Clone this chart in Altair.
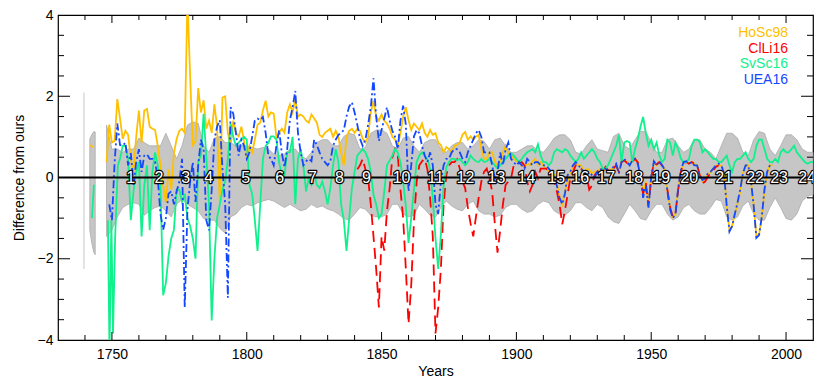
import altair as alt
import pandas as pd

W, H = 755, 325
FONT = "Liberation Sans"

# ---------------- data ----------------
# HoSc98 (gold)
ho_early_years = [1742, 1743]
ho_early = [0.80, 0.74]
ho_start = 1748
ho_vals = [
    0.38, 1.30,
    0.86, 0.90, 1.93, 1.45, 0.95, 1.15, 1.05, 0.45, 0.15, 1.00,
    1.65, 0.85, 1.65, 1.69, 1.25, 1.20, 1.17, 0.78, 0.30, -0.20,
    -0.62, 0.20, -0.30, 0.60, 0.95, 1.15, 1.20, 1.10, 4.40, 2.50,
    0.80, 0.90, 2.20, 1.60, 1.90, 1.20, 1.40, 1.10, 1.80, 1.25,
    -0.60, 1.97, 2.00, 1.09, 0.78, 1.40, 1.09, 1.01, 1.25, 0.90,
    0.46, 0.78, 0.62, 0.93, 1.30, 1.35, 1.65, 1.89, 1.50, 1.60,
    1.57, 1.00, 1.10, 1.20, 1.10, 1.60, 1.80, 1.60, 1.93, 1.50,
    1.55, 1.50, 1.40, 1.35, 1.55, 1.45, 1.35, 1.05, 1.00, 1.10,
    1.15, 1.20, 1.00, 1.15, 1.00, 0.60, 0.30, 1.00, 1.15, 1.20,
    1.10, 1.20, 1.15, 0.95, 0.86, 1.00, 1.60, 1.89, 1.50, 1.40,
    1.55, 1.40, 1.33, 1.20, 1.00, 0.93, 0.78, 1.10, 1.49, 1.73,
    1.41, 1.17, 1.33, 1.25, 1.17, 1.33, 1.10, 1.00, 1.17, 1.05,
    1.09, 0.86, 0.80, 0.62, 0.75, 0.70, 0.62, 0.78, 0.80, 0.86,
    1.05, 1.12, 0.93, 1.01, 0.93, 1.00, 1.05, 0.70, 0.46, 0.46,
    0.62, 0.62, 0.40, 0.30, 0.40, 0.62, 0.78, 0.60, 0.55, 0.46,
    0.40, 0.38, 0.30, 0.25, 0.35, 0.30, 0.40, 0.46, 0.30, 0.38,
    0.30, 0.22, 0.14, 0.14, 0.06, -0.15, -0.45, -0.66, -0.34, -0.10,
    0.14, 0.25, 0.38, 0.30, 0.30, 0.14, 0.20, 0.20, 0.10, 0.15,
    0.14, 0.22, 0.14, 0.22, 0.14, 0.20, 0.22, 0.30, 0.14, 0.38,
    0.42, 0.38, 0.34, 0.40, 0.46, 0.38, -0.02, -0.42, -0.10, -0.66,
    0.00, 0.38, 0.30, 0.38, 0.30, 0.22, -0.30, -0.74, -0.97, -0.90,
    -0.30, 0.14, 0.38, 0.38, 0.34, 0.38, 0.34, 0.30, 0.06, -0.10,
    -0.02, 0.06, 0.14, 0.22, 0.30, 0.30, 0.30, 0.10, -0.66, -1.29,
    -1.20, -0.90, -0.66, -0.34, 0.10, 0.30, 0.30, -0.10, -0.66, -1.45,
    -1.40, -0.97, -0.34, 0.10, 0.30, 0.30,
]

# ClLi16 (red, dashed)
cl_start = 1841
cl_vals = [
    0.20, 0.30, 0.46, 0.20, -0.02, -0.66, -1.45, -2.25, -3.20,
    -1.45, -1.80, -0.82, -0.26, 0.50, 0.70, 0.55, -0.30, -1.00, -2.25,
    -3.60, -2.65, -1.10, -0.10, 0.30, 0.40, 0.46, 0.20, -0.50, -1.45,
    -3.84, -3.20, -2.25, -0.66, 0.06, 0.30, 0.38, 0.38, 0.45, 0.22,
    -0.10, -0.26, -0.74, -1.13, -1.45, -0.97, -0.50, -0.10, 0.14, 0.22,
    -0.02, -0.34, -1.13, -1.85, -1.29, -0.66, -0.18, -0.10, -0.02, 0.30,
    0.30, 0.35, 0.38, 0.30, -0.10, -0.34, -0.18, 0.14, -0.02, 0.22,
    0.22, 0.22, 0.14, 0.06, -0.10, -0.34, -0.66, -1.15, -0.82, -0.42,
    -0.02, 0.14, 0.30, 0.30, 0.22, 0.10, 0.06, -0.30, -0.20, 0.06,
    0.14, 0.22, 0.14, 0.26, 0.18, 0.20, 0.22, 0.30, 0.14, 0.38,
    0.42, 0.36, 0.34, 0.40, 0.46, 0.38, -0.02, -0.40, -0.14, -0.70,
    0.00, 0.36, 0.32, 0.38, 0.30, 0.22, -0.30, -0.74, -0.97, -0.88,
    -0.30, 0.14, 0.36, 0.38, 0.34, 0.38, 0.34, 0.30, 0.06, -0.14,
    -0.10, 0.02, 0.10, 0.18, 0.26, 0.30,
]

# SvSc16 (spring green)
sv_early_years = [1742.6, 1743.3]
sv_early = [-1.00, -0.18]
sv_lead_years = [1748.5, 1749.1, 1749.8, 1750.4, 1751.2, 1752.2]
sv_lead = [-1.05, -4.30, -1.05, -3.84, -1.45, 0.30]
sv_start = 1753
sv_vals = [
    0.46, 0.78, 0.78, 0.46, -1.05, -0.34, 0.14,
    0.38, -1.45, -0.20, 0.30, -1.30, 0.14, 0.62, 0.30, -0.18, -2.90,
    -2.60, -1.93, -1.50, -1.29, -0.30, -0.30, -0.60, -0.40, -1.00, -1.20,
    -1.50, -2.00, 0.40, 0.54, 1.57, 0.50, -0.66, -3.52, -2.00, -1.00,
    -0.66, -0.30, -0.10, 0.46, 1.33, 1.00, 0.78, 0.86, 0.93, 1.00,
    0.93, -0.18, -0.40, -1.05, -1.81, -0.66, 0.46, 0.78, 0.85, 1.01,
    1.01, 0.93, 0.38, 0.06, 0.06, 0.62, 0.62, 1.00, -0.66, 0.46,
    0.70, 0.30, -0.34, -0.02, -0.18, 0.14, -0.18, -0.26, -0.10, -0.34,
    -0.66, -0.26, 0.30, 0.70, 0.38, -0.66, -1.05, -1.81, -1.00, -0.26,
    0.14, 0.54, 0.62, 0.70, 0.62, 0.46, 0.14, -0.42, -0.66, -1.00,
    -0.90, -0.34, 0.30, 0.42, 0.54, 0.70, 0.62, 0.38, -0.10, -0.70,
    -1.61, -1.00, -0.30, 0.38, 0.54, 0.62, 0.54, 0.46, 0.20, -0.50,
    -1.50, -2.25, -1.40, -0.20, 0.25, 0.38, 0.46, 0.46, 0.42, 0.46,
    0.38, 0.30, 0.38, 0.54, 0.46, 0.40, 0.38, 0.46, 0.38, 0.40,
    0.46, 0.38, 0.30, 0.22, 0.30, 0.38, 0.46, 0.54, 0.60, 0.54,
    0.46, 0.38, 0.46, 0.55, 0.62, 0.66, 0.70, 0.62, 0.82, 0.54,
    0.38, 0.38, 0.30, 0.38, 0.62, 0.70, 0.66, 0.62, 0.70, 0.66,
    0.54, 0.46, 0.38, 0.46, 0.62, 0.46, 0.54, 0.62, 0.70, 0.62,
    0.46, 0.38, 0.22, 0.22, 0.30, 0.46, 0.62, 0.78, 1.05, 0.38,
    0.86, 0.90, 0.86, 0.38, 0.70, 0.93, 1.25, 1.49, 1.09, 0.78,
    0.93, 0.70, 0.86, 0.54, 0.38, 0.46, 0.93, 0.86, 0.54, 0.86,
    0.70, 0.46, 0.38, 0.38, 0.46, 0.78, 0.93, 0.93, 0.88, 0.62,
    0.70, 0.62, 0.54, 0.46, 0.46, 0.38, 0.38, 0.46, 0.54, 0.30,
    0.14, 0.38, 0.46, 0.46, 0.54, 0.62, 0.46, 0.38, 0.46, 0.78,
    0.93, 0.93, 0.70, 0.46, 0.38, 0.38, 0.46, 0.38, 0.62, 0.70,
    0.62, 0.62, 0.70, 0.78, 0.62, 0.54, 0.46, 0.38, 0.34, 0.38,
    0.38,
]

# UEA16 (blue, dash-dot)
uea_start = 1749
uea_vals = [
    -0.66,
    -1.05, 0.38, 1.33, 0.80, 0.78, 0.86, 0.30, 0.60, -0.18, 0.38,
    0.70, 0.14, 0.54, 0.57, 0.46, 0.46, 0.38, -0.02, -0.90, -1.29,
    -1.00, -0.40, -0.34, -0.66, -0.34, -0.10, 0.46, -3.20, -0.80, -0.10,
    0.38, -0.60, 0.30, 0.93, 0.70, -1.05, -1.30, -0.30, 0.93, 1.25,
    1.41, 0.20, -0.66, -2.96, 1.73, 1.57, 1.09, 0.54, 0.93, 0.78,
    0.46, 0.62, 1.00, 1.40, 1.45, 1.41, 1.49, 1.10, 0.54, 0.46,
    0.30, 0.78, 1.17, 0.60, 0.25, 0.70, 1.41, 1.73, 2.13, 1.09,
    0.62, 0.30, 0.40, 0.46, 0.40, 0.93, 0.80, 0.62, 0.46, 0.38,
    0.30, 0.40, 0.78, 0.93, 1.05, 1.10, 1.17, 1.50, 1.75, 1.85,
    1.60, 1.30, 0.95, 0.78, 0.93, 1.30, 1.73, 2.44, 1.50, 0.90,
    1.17, 1.45, 1.73, 1.40, 1.15, 1.00, 0.70, 1.40, 1.77, 1.30,
    -0.34, 0.30, 1.01, 1.17, 1.09, 0.78, 0.54, 0.38, 0.62, 0.30,
    -0.66, -0.90, -0.10, 0.30, 0.46, 0.46, 0.62, 0.70, 0.70, 0.62,
    0.46, 0.38, 0.62, 0.78, 0.93, 1.09, 1.17, 1.00, 0.62, 0.62,
    0.62, 0.30, -0.02, 0.14, 0.62, 0.30, 0.70, 0.86, 0.46, 0.38,
    0.30, 0.38, 0.30, 0.22, 0.46, 0.38, 0.30, 0.38, 0.38, 0.30,
    0.30, 0.30, 0.22, 0.14, 0.00, -0.20, -0.50, -0.66, -0.40, 0.06,
    0.14, 0.30, 0.38, 0.30, 0.22, 0.14, 0.14, 0.14, 0.06, 0.00,
    0.14, 0.22, 0.18, 0.22, 0.14, 0.18, 0.26, 0.34, 0.10, 0.38,
    0.46, 0.38, 0.30, 0.42, 0.46, 0.34, 0.06, -0.50, -0.20, -0.74,
    0.02, 0.40, 0.30, 0.40, 0.30, 0.20, -0.34, -0.78, -1.00, -0.90,
    -0.26, 0.18, 0.38, 0.40, 0.34, 0.38, 0.30, 0.30, 0.06, -0.06,
    -0.02, 0.10, 0.14, 0.22, 0.30, 0.34, 0.30, 0.10, -0.70, -1.33,
    -1.20, -0.90, -0.62, -0.30, 0.10, 0.30, 0.30, -0.10, -0.70, -1.49,
    -1.42, -0.97, -0.30, 0.14, 0.30, 0.34,
]

# uncertainty band (every 2 years from 1748)
band_start = 1748
band_upper = [
    1.29, 0.70, 0.70, 0.62, 0.70, 0.70, 0.97, 0.86, 0.78, 0.78,
    0.78, 1.09, 0.78, 0.46, 0.78, 1.29, 1.37, 1.33, 0.78, 0.62,
    0.97, 1.01, 0.86, 0.86, 0.78, 0.78, 0.78, 0.74, 0.70, 0.74,
    0.70, 0.58, 0.54, 0.58, 0.70, 0.70, 0.54, 0.46, 0.62, 0.86,
    0.93, 0.93, 0.78, 0.78, 1.01, 1.09, 1.05, 0.70, 0.74, 1.09,
    1.17, 1.17, 1.09, 0.78, 0.70, 0.97, 1.01, 0.78, 0.62, 0.86,
    0.93, 0.93, 0.70, 0.62, 0.78, 0.86, 0.86, 0.70, 0.78, 0.93,
    0.89, 0.70, 0.93, 0.97, 0.78, 0.62, 0.62, 0.70, 0.78, 0.78,
    0.66, 0.62, 0.78, 0.97, 1.05, 1.05, 0.93, 0.62, 0.58, 0.78,
    0.93, 0.70, 0.66, 0.62, 1.01, 1.09, 0.78, 0.70, 0.93, 1.13,
    1.13, 0.86, 0.62, 0.62, 0.93, 0.97, 0.78, 0.62, 0.70, 0.93,
    0.93, 0.70, 0.62, 0.46, 0.78, 1.09, 1.09, 0.97, 0.62, 0.54,
    0.93, 1.13, 1.09, 0.70, 0.54, 0.78, 1.05, 1.05, 0.93, 0.70,
    0.62, 0.62,
]
band_lower = [
    -1.45, -1.29, -0.97, -0.74, -0.66, -0.62, -0.66, -0.93, -0.82, -0.74,
    -0.70, -0.82, -0.97, -0.66, -0.54, -0.66, -0.74, -0.82, -1.01, -1.05,
    -1.05, -1.25, -1.37, -0.97, -0.90, -0.74, -0.66, -0.70, -0.62, -0.58,
    -0.54, -0.58, -0.66, -0.74, -0.66, -0.74, -0.82, -0.78, -0.66, -0.74,
    -0.70, -0.78, -0.82, -0.90, -1.01, -1.05, -0.90, -0.74, -0.78, -0.93,
    -0.97, -0.97, -0.90, -0.66, -0.66, -0.90, -0.97, -0.93, -0.66, -0.78,
    -0.93, -0.97, -0.74, -0.58, -0.70, -0.78, -0.82, -0.66, -0.58, -0.82,
    -0.90, -0.90, -0.97, -0.93, -0.74, -0.66, -0.66, -0.78, -0.86, -0.82,
    -0.66, -0.58, -0.62, -0.82, -0.90, -0.93, -0.82, -0.62, -0.62, -0.74,
    -0.82, -0.66, -0.74, -0.97, -1.09, -1.13, -0.90, -0.66, -0.82, -1.01,
    -1.05, -0.82, -0.66, -0.66, -0.90, -1.05, -0.97, -0.74, -0.66, -0.82,
    -0.90, -0.90, -0.74, -0.54, -0.58, -0.97, -1.05, -0.97, -0.70, -0.58,
    -0.90, -1.05, -1.05, -0.74, -0.50, -0.74, -1.01, -1.05, -0.90, -0.58,
    -0.46, -0.42,
]
blob_years = [1741.8, 1742.5, 1743.3, 1743.8]
blob_upper = [0.95, 1.05, 1.13, 1.12]
blob_lower = [-1.30, -1.60, -1.85, -1.90]
sliver_year = [1739.6]
sliver_top = [2.09]
sliver_bottom = [-2.25]

# solar cycle numbers
cycle_labels = [str(i) for i in range(1, 25)]
cycle_years = [1757.0, 1767.4, 1777.4, 1785.9, 1799.6, 1812.2, 1824.4, 1834.4,
               1844.4, 1857.4, 1870.0, 1881.1, 1892.6, 1903.7, 1914.8, 1923.7,
               1933.3, 1943.7, 1953.7, 1964.1, 1977.0, 1988.5, 1997.4, 2007.8]

legend_names = ["HoSc98", "ClLi16", "SvSc16", "UEA16"]
legend_colors = ["#FFC000", "#FF0000", "#10F08C", "#1448FF"]

x_major = [1750, 1800, 1850, 1900, 1950, 2000]
x_minor = [1740, 1760, 1770, 1780, 1790, 1810, 1820, 1830, 1840, 1860, 1870,
           1880, 1890, 1910, 1920, 1930, 1940, 1960, 1970, 1980, 1990]
y_major = [-2, 0, 2]
y_minor = [-3.5, -3, -2.5, -1.5, -1, -0.5, 0.5, 1, 1.5, 2.5, 3, 3.5]

# ---------------- frames ----------------
def seg_frame(parts):
    rows = []
    for seg, yrs, vals in parts:
        for yr, v in zip(yrs, vals):
            rows.append({"year": yr, "value": v, "seg": seg})
    return pd.DataFrame(rows)

ho_df = seg_frame([("a", ho_early_years, ho_early),
                   ("b", list(range(ho_start, ho_start + len(ho_vals))), ho_vals)])
cl_df = seg_frame([("b", list(range(cl_start, cl_start + len(cl_vals))), cl_vals)])
sv_df = seg_frame([("a", sv_early_years, sv_early),
                   ("b", sv_lead_years + list(range(sv_start, sv_start + len(sv_vals))),
                    sv_lead + sv_vals)])
uea_df = seg_frame([("b", list(range(uea_start, uea_start + len(uea_vals))), uea_vals)])

band_years = list(range(band_start, band_start + 2 * len(band_upper), 2))
band_df = pd.DataFrame({
    "year": blob_years + band_years,
    "upper": blob_upper + band_upper,
    "lower": blob_lower + band_lower,
    "seg": ["a"] * len(blob_years) + ["b"] * len(band_years),
})
sliver_df = pd.DataFrame({"year": sliver_year, "upper": sliver_top, "lower": sliver_bottom})

xs = alt.Scale(domain=[1730, 2010], nice=False, zero=False)
ys = alt.Scale(domain=[-4, 4], nice=False, zero=False)

xaxis = alt.Axis(values=x_major, format="d", title="Years", ticks=False, domain=False,
                 grid=False, labelPadding=7, titlePadding=3, labelFont=FONT,
                 titleFont=FONT, labelFontSize=14, titleFontSize=14,
                 titleFontWeight="normal", labelColor="black", titleColor="black",
                 labelFlush=False)
yaxis = alt.Axis(values=[-4, -2, 0, 2, 4], format="d", title="Difference from ours",
                 ticks=False, domain=False, grid=False, labelPadding=5,
                 titlePadding=11, labelFont=FONT, titleFont=FONT, labelFontSize=14,
                 titleFontSize=14, titleFontWeight="normal", labelColor="black",
                 titleColor="black")


def X(field="year"):
    return alt.X(f"{field}:Q", scale=xs, axis=xaxis)


def Y(field="value"):
    return alt.Y(f"{field}:Q", scale=ys, axis=yaxis)


band = alt.Chart(band_df).mark_area(color="#c6c6c6", stroke="#ababab",
                                    strokeWidth=0.8).encode(
    x=X(), y=Y("upper"), y2="lower:Q", detail="seg:N")
sliver = alt.Chart(sliver_df).mark_rule(color="#e2e2e2", strokeWidth=2).encode(
    x=X(), y=Y("upper"), y2="lower:Q")


def series(df, color, dash=None):
    kw = dict(color=color, strokeWidth=1.8, clip=True)
    if dash:
        kw["strokeDash"] = dash
    return alt.Chart(df).mark_line(**kw).encode(x=X(), y=Y(), detail="seg:N")


ho_line = series(ho_df, legend_colors[0])
sv_line = series(sv_df, legend_colors[2])
uea_line = series(uea_df, legend_colors[3], [8, 3, 2, 3])
cl_line = series(cl_df, legend_colors[1], [11, 6])

zero_df = pd.DataFrame({"v": [0.0]})
zero = alt.Chart(zero_df).mark_rule(color="black", strokeWidth=2).encode(y=Y("v"))

# inward ticks on all four sides
def xticks(vals, length):
    d = pd.DataFrame({"year": vals})
    bot = alt.Chart(d).mark_rule(color="black", strokeWidth=1).encode(
        x=X(), y=alt.value(H), y2=alt.value(H - length))
    top = alt.Chart(d).mark_rule(color="black", strokeWidth=1).encode(
        x=X(), y=alt.value(0), y2=alt.value(length))
    return [bot, top]


def yticks(vals, length):
    d = pd.DataFrame({"v": vals})
    left = alt.Chart(d).mark_rule(color="black", strokeWidth=1).encode(
        y=Y("v"), x=alt.value(0), x2=alt.value(length))
    right = alt.Chart(d).mark_rule(color="black", strokeWidth=1).encode(
        y=Y("v"), x=alt.value(W), x2=alt.value(W - length))
    return [left, right]


cyc_df = pd.DataFrame({"year": cycle_years, "label": cycle_labels,
                       "v": [0.0] * len(cycle_years)})
cyc_outline = alt.Chart(cyc_df).mark_text(
    font=FONT, fontSize=16, fill="black", stroke="black", strokeWidth=2.4,
    strokeJoin="round", align="center", baseline="middle", clip=True).encode(
    x=X(), y=Y("v"), text="label:N")
cyc_fill = alt.Chart(cyc_df).mark_text(
    font=FONT, fontSize=16, color="white", align="center", baseline="middle",
    clip=True).encode(x=X(), y=Y("v"), text="label:N")

legend_layers = []
for i, (nm, col) in enumerate(zip(legend_names, legend_colors)):
    legend_layers.append(
        alt.Chart(pd.DataFrame({"t": [nm]})).mark_text(
            font=FONT, fontSize=14, color=col, align="right", baseline="middle").encode(
            x=alt.value(730), y=alt.value(18 + 15.7 * i), text="t:N"))

layers = [band, sliver, ho_line, cl_line, sv_line, uea_line, zero]
layers += xticks(x_major, 8) + xticks(x_minor, 5)
layers += yticks(y_major, 12) + yticks(y_minor, 6)
layers += [cyc_outline, cyc_fill] + legend_layers

chart = alt.layer(*layers).properties(
    width=W, height=H,
    autosize=alt.AutoSizeParams(type="none"),
    padding={"left": 50, "top": 7, "right": 9, "bottom": 38},
    background="white",
).configure_view(stroke="black", strokeWidth=1.2)

chart.save("out.html", embed_options={"renderer": "svg", "actions": False})
